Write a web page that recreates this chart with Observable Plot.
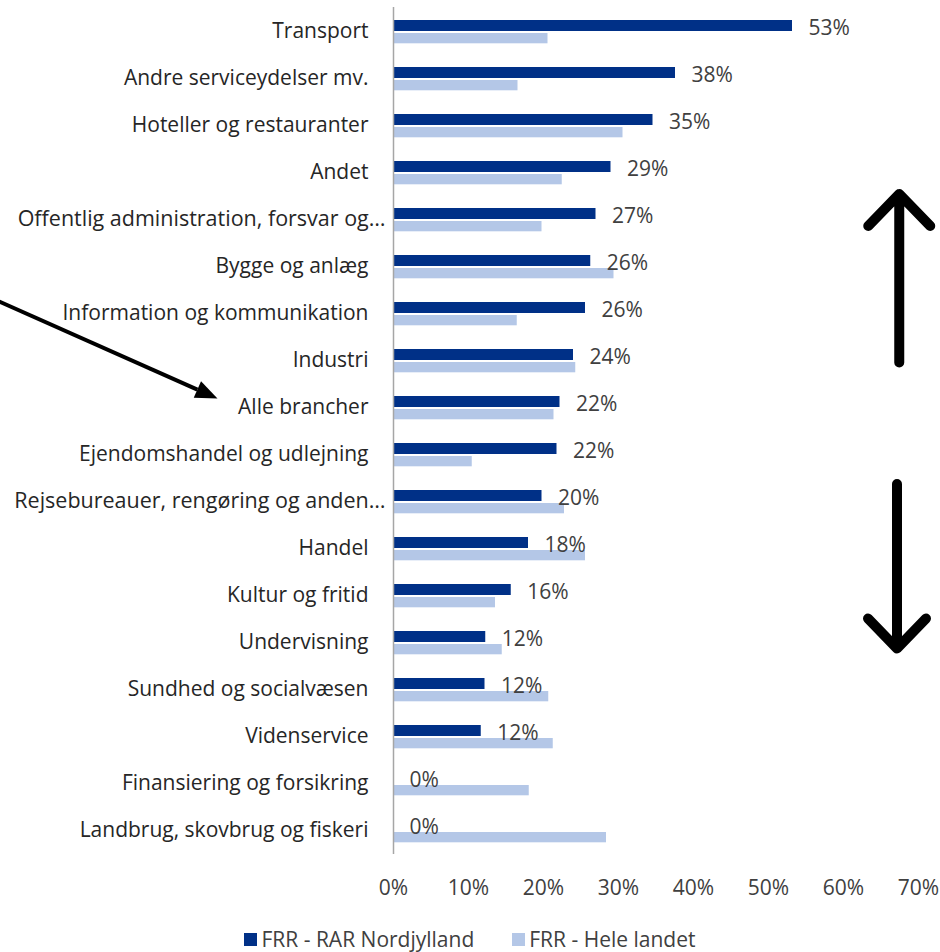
<!DOCTYPE html>
<html>
<head>
<meta charset="utf-8">
<script src="https://cdn.jsdelivr.net/npm/d3@7"></script>
<script src="https://cdn.jsdelivr.net/npm/@observablehq/plot@0.6"></script>
<style>
  html, body { margin: 0; padding: 0; background: #fff; }
  body { font-family: "Open Sans", sans-serif; color: #404040; width: 940px; }
  #legend { height: 39px; box-sizing: border-box; padding-top: 13px; display: flex; justify-content: center; align-items: center; font-size: 21px; line-height: 22px; color: #404040; }
  .item { display: flex; align-items: center; margin: 0 19px; }
  .item span { display: block; }
  .sw { width: 13px; height: 13px; margin-right: 4px; }
</style>
</head>
<body>
<div id="chart"></div>
<div id="legend"></div>
<script>
// ---- data ----
const categories = [
  "Transport",
  "Andre serviceydelser mv.",
  "Hoteller og restauranter",
  "Andet",
  "Offentlig administration, forsvar og…",
  "Bygge og anlæg",
  "Information og kommunikation",
  "Industri",
  "Alle brancher",
  "Ejendomshandel og udlejning",
  "Rejsebureauer, rengøring og anden…",
  "Handel",
  "Kultur og fritid",
  "Undervisning",
  "Sundhed og socialvæsen",
  "Videnservice",
  "Finansiering og forsikring",
  "Landbrug, skovbrug og fiskeri"
];
const truncated = ["Offentlig administration, forsvar og…", "Rejsebureauer, rengøring og anden…"];
const nordjylland = [53.2, 37.6, 34.6, 29.0, 27.0, 26.3, 25.6, 24.0, 22.2, 21.8, 19.8, 18.0, 15.7, 12.3, 12.2, 11.7, 0, 0];
const heleLandet  = [20.6, 16.6, 30.6, 22.5, 19.8, 29.4, 16.5, 24.3, 21.4, 10.5, 22.8, 25.6, 13.6, 14.5, 20.7, 21.3, 18.1, 28.4];
const seriesNames = ["FRR - RAR Nordjylland", "FRR - Hele landet"];
const seriesColors = ["#003087", "#B4C7E7"];
const xTicks = [0, 10, 20, 30, 40, 50, 60, 70];

const rows = categories.map((c, i) => ({cat: c, nord: nordjylland[i], hele: heleLandet[i]}));

const chart = Plot.plot({
  width: 940,
  height: 913,
  marginTop: 7,
  marginBottom: 59,
  marginLeft: 393,
  marginRight: 22,
  style: {fontFamily: "Open Sans, sans-serif", fontSize: "21px", color: "#404040", background: "#fff"},
  x: {domain: [0, 70], ticks: xTicks, tickFormat: d => d + "%", tickSize: 0, tickPadding: 26, label: null},
  y: {domain: categories, padding: 0, axis: null},
  marks: [
    Plot.barX(rows, {x: "hele", y: "cat", fill: seriesColors[1], insetTop: 25, insetBottom: 11.7}),
    Plot.barX(rows, {x: "nord", y: "cat", fill: seriesColors[0], insetTop: 12, insetBottom: 24}),
    Plot.ruleX([0], {stroke: "#A6A6A6", strokeWidth: 1.5}),
    Plot.text(rows, {x: "nord", y: "cat", text: d => Math.round(d.nord) + "%", dx: 16, dy: -4, textAnchor: "start", fill: "#404040", fontSize: 21}),
    Plot.text(categories.filter(c => !truncated.includes(c)), {y: d => d, text: d => d, frameAnchor: "left", textAnchor: "end", dx: -25, dy: -1, fill: "#262626", fontSize: 21}),
    Plot.text(truncated, {y: d => d, text: d => d, frameAnchor: "left", textAnchor: "end", dx: -8, dy: -1, fill: "#262626", fontSize: 21.5})
  ]
});
document.getElementById("chart").appendChild(chart);

// ---- annotation arrows, anchored to the chart's scales ----
const xs = chart.scale("x"), ys = chart.scale("y");
const X = v => xs.apply(v);
const Ytop = c => ys.apply(c);
const Yc = c => ys.apply(c) + ys.bandwidth / 2;
const svg = d3.select(chart);
const g = svg.append("g").attr("fill", "none").attr("stroke", "#000")
  .attr("stroke-linecap", "round").attr("stroke-linejoin", "round");

// up arrow
{
  const x = X(67.5), y0 = Yc("Industri") + 2, y1 = Ytop(categories[4]) - 2;
  g.append("path").attr("stroke-width", 10)
    .attr("d", `M${x},${y0}L${x},${y1}M${x - 31},${y1 + 32}L${x},${y1}L${x + 31},${y1 + 32}`);
}
// down arrow
{
  const x = X(67.2), y0 = Ytop(categories[10]) + 6, y1 = Yc("Undervisning") + 6;
  g.append("path").attr("stroke-width", 10)
    .attr("d", `M${x},${y0}L${x},${y1}M${x - 29},${y1 - 30}L${x},${y1}L${x + 29},${y1 - 30}`);
}
// diagonal arrow pointing at "Alle brancher"
{
  const x0 = X(-52.8), y0 = Yc("Information og kommunikation") - 13;
  const x1 = X(-23.4), y1 = Yc("Alle brancher") - 9;
  const a = Math.atan2(y1 - y0, x1 - x0);
  const L = 22, W = 9;
  const bx = x1 - L * Math.cos(a), by = y1 - L * Math.sin(a);
  g.append("path").attr("stroke-width", 4).attr("stroke-linecap", "butt")
    .attr("d", `M${x0},${y0}L${bx},${by}`);
  g.append("path").attr("stroke", "none").attr("fill", "#000")
    .attr("d", `M${x1},${y1}L${bx - W * Math.sin(a)},${by + W * Math.cos(a)}L${bx + W * Math.sin(a)},${by - W * Math.cos(a)}Z`);
}

// ---- legend ----
const legend = d3.select("#legend");
seriesNames.forEach((n, i) => {
  const it = legend.append("div").attr("class", "item");
  it.append("span").attr("class", "sw").style("background", seriesColors[i]);
  it.append("span").text(n);
});
</script>
</body>
</html>
